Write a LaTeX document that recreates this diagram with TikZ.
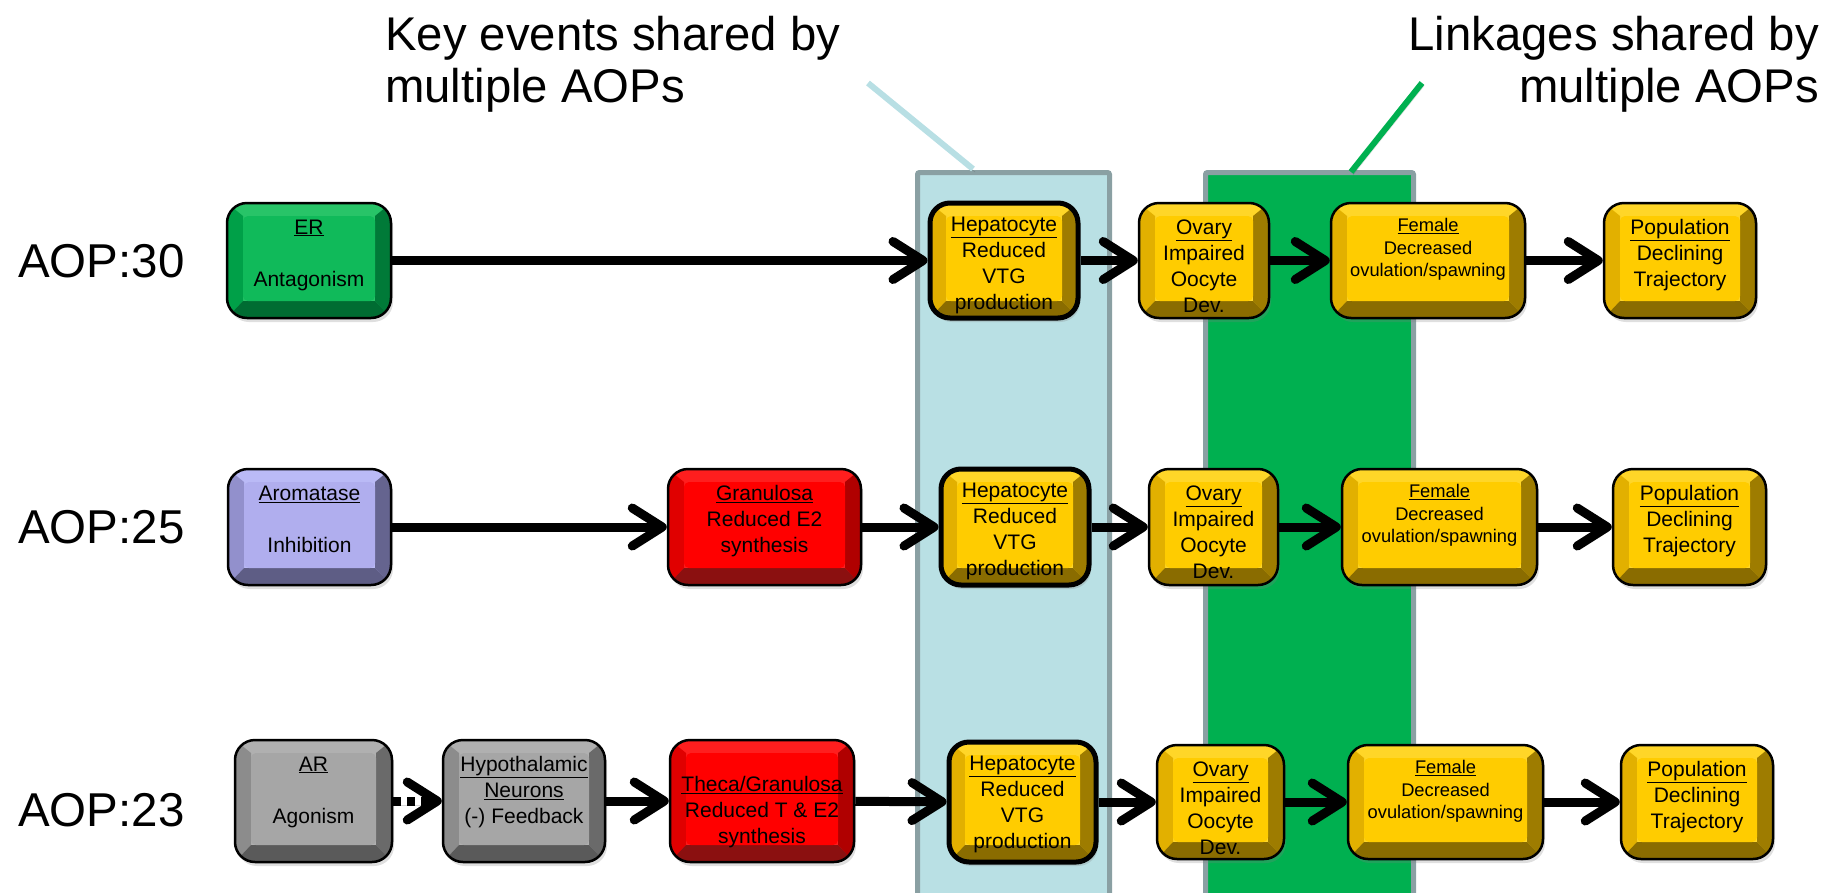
\documentclass[tikz,border=0pt]{standalone}
\usepackage{fontspec}
\setmainfont{Liberation Sans}
\usetikzlibrary{arrows.meta,calc,positioning,shadows}

% strip colours
\definecolor{stripblue}{RGB}{185,224,228}
\definecolor{stripgreen}{RGB}{0,176,80}
\definecolor{stripedge}{RGB}{138,160,163}
\definecolor{pointblue}{RGB}{184,223,228}
% bevel colours: face, top, left, right, bottom
\definecolor{yface}{RGB}{255,204,0}
\definecolor{ytop}{RGB}{255,214,40}
\definecolor{yleft}{RGB}{226,176,0}
\definecolor{yright}{RGB}{158,124,0}
\definecolor{ybot}{RGB}{138,108,0}
\definecolor{gface}{RGB}{16,186,90}
\definecolor{gtop}{RGB}{40,196,104}
\definecolor{gleft}{RGB}{0,160,72}
\definecolor{gright}{RGB}{0,122,56}
\definecolor{gbot}{RGB}{0,108,50}
\definecolor{lface}{RGB}{176,174,238}
\definecolor{ltop}{RGB}{186,186,246}
\definecolor{lleft}{RGB}{146,144,204}
\definecolor{lright}{RGB}{101,100,143}
\definecolor{lbot}{RGB}{94,93,133}
\definecolor{rface}{RGB}{255,0,0}
\definecolor{rtop}{RGB}{255,30,30}
\definecolor{rleft}{RGB}{224,0,0}
\definecolor{rright}{RGB}{176,0,0}
\definecolor{rbot}{RGB}{139,16,16}
\definecolor{kface}{RGB}{166,166,166}
\definecolor{ktop}{RGB}{176,176,176}
\definecolor{kleft}{RGB}{140,140,140}
\definecolor{kright}{RGB}{106,106,106}
\definecolor{kbot}{RGB}{90,90,90}

\begin{document}
\begin{tikzpicture}[x=1pt,y=-1pt,
  box/.style={rectangle, rounded corners=20pt, draw=black, line width=2.5pt,
    inner sep=0pt, minimum height=116pt,
    drop shadow={shadow xshift=2pt, shadow yshift=-4pt, opacity=.25}},
  bevel/.style n args={5}{path picture={
    \fill[#2,sharp corners] (path picture bounding box.south west) rectangle (path picture bounding box.north east);
    \fill[#3,sharp corners] (path picture bounding box.north west) -- ++(16pt,-13pt)
      -- ($(path picture bounding box.south west)+(16pt,17pt)$) -- (path picture bounding box.south west) -- cycle;
    \fill[#4,sharp corners] (path picture bounding box.north east) -- ++(-16pt,-13pt)
      -- ($(path picture bounding box.south east)+(-16pt,17pt)$) -- (path picture bounding box.south east) -- cycle;
    \fill[#5,sharp corners] (path picture bounding box.south west) -- ++(16pt,17pt)
      -- ($(path picture bounding box.south east)+(-16pt,17pt)$) -- (path picture bounding box.south east) -- cycle;
    \fill[#1,rounded corners=5pt] ($(path picture bounding box.north west)+(16pt,-13pt)$)
      rectangle ($(path picture bounding box.south east)+(-16pt,17pt)$);
  }},
  yel/.style={box, bevel={yface}{ytop}{yleft}{yright}{ybot}},
  keybox/.style={yel, line width=5pt},
  grn/.style={box, bevel={gface}{gtop}{gleft}{gright}{gbot}},
  lav/.style={box, bevel={lface}{ltop}{lleft}{lright}{lbot}},
  redb/.style={box, bevel={rface}{rtop}{rleft}{rright}{rbot}},
  gry/.style={box, bevel={kface}{ktop}{kleft}{kright}{kbot}},
  txt/.style={font=\fontsize{21}{26}\selectfont, align=center, inner sep=0pt},
  txtsm/.style={font=\fontsize{18.3}{22.5}\selectfont, align=center, inner sep=0pt},
  aop/.style={font=\fontsize{47.5}{52}\selectfont, anchor=west, inner sep=0pt},
  head/.style={font=\fontsize{47.3}{52}\selectfont, inner sep=0pt},
  flow/.style={line width=9pt, -{Straight Barb[length=30pt,width=38pt,round]},
    preaction={draw=black, draw opacity=.15, transform canvas={shift={(2pt,-4pt)}}}},
  strip/.style={draw=stripedge, line width=5pt, rounded corners=2pt},
  pointer/.style={line width=6pt, draw=#1,
    preaction={draw=black, draw opacity=.15, transform canvas={shift={(2pt,-3pt)}}}}
]
\useasboundingbox (0,0) rectangle (1842,892);
\clip (0,0) rectangle (1842,892);

% shaded columns
\path[strip, fill=stripblue] (917.5,172.5) rectangle (1109.5,910);
\path[strip, fill=stripgreen] (1205.5,172.5) rectangle (1413.5,910);

% headings and their pointers
\node[head, anchor=north west, align=left] (keyhead) at (385,13.5)
  {\strut Key events shared by\\\strut multiple AOPs};
\node[head, anchor=north east, align=right] (linkhead) at (1819,13.5)
  {\strut Linkages shared by\\\strut multiple AOPs};
\coordinate (keytip) at (868,83);
\coordinate (keyfoot) at (973,169);
\coordinate (linktip) at (1422,83);
\coordinate (linkfoot) at (1351,172);
\draw[pointer=pointblue] (keytip) -- (keyfoot);
\draw[pointer=stripgreen] (linktip) -- (linkfoot);

% row labels
\node[aop] (aop30) at (18,261) {AOP:30};
\node[aop] (aop25) at (18,527) {AOP:25};
\node[aop] (aop23) at (18,810) {AOP:23};

% AOP:30
\node[grn, minimum width=164pt, minimum height=115pt] (er) at (309,260.5) {};
\node[keybox, minimum width=148pt, minimum height=115pt] (hepa) at (1004,260.5) {};
\node[yel, minimum width=130pt, minimum height=115pt] (ovaa) at (1204,260.5) {};
\node[yel, minimum width=194pt, minimum height=115pt] (fema) at (1428,260.5) {};
\node[yel, minimum width=152pt, minimum height=115pt] (popa) at (1680,260.5) {};

% AOP:25
\node[lav, minimum width=163pt] (aro) at (309.5,527) {};
\node[redb, minimum width=193pt] (gra) at (764.5,527) {};
\node[keybox, minimum width=148pt] (hepb) at (1015,527) {};
\node[yel, minimum width=129pt] (ovab) at (1213.5,527) {};
\node[yel, minimum width=195pt] (femb) at (1439.5,527) {};
\node[yel, minimum width=153pt] (popb) at (1689.5,527) {};

% AOP:23
\node[gry, minimum width=157pt, minimum height=122pt] (ar) at (313.5,801) {};
\node[gry, minimum width=162pt, minimum height=122pt] (hyp) at (524,801) {};
\node[redb, minimum width=184pt, minimum height=122pt] (the) at (762,801) {};
\node[keybox, minimum width=147pt, minimum height=120pt] (hepc) at (1022.5,802) {};
\node[yel, minimum width=127pt, minimum height=114pt] (ovac) at (1220.5,802) {};
\node[yel, minimum width=195pt, minimum height=114pt] (femc) at (1445.5,802) {};
\node[yel, minimum width=152pt, minimum height=114pt] (popc) at (1697,802) {};

% box texts
\node[txt, below=14pt of er.north] (ert) {\strut\underline{ER}\\\strut\\\strut Antagonism};
\node[txt, below=13pt of hepa.north] (hepat) {\strut\underline{Hepatocyte}\\\strut Reduced\\\strut VTG\\\strut production};
\node[txt, below=14pt of ovaa.north] (ovaat) {\strut\underline{Ovary}\\\strut Impaired\\\strut Oocyte\\\strut Dev.};
\node[txtsm, below=14pt of fema.north] (femat) {\strut\underline{Female}\\\strut Decreased\\\strut ovulation/spawning};
\node[txt, below=14pt of popa.north] (popat) {\strut\underline{Population}\\\strut Declining\\\strut Trajectory};

\node[txt, below=14pt of aro.north] (arot) {\strut\underline{Aromatase}\\\strut\\\strut Inhibition};
\node[txt, below=14pt of gra.north] (grat) {\strut\underline{Granulosa}\\\strut Reduced E2\\\strut synthesis};
\node[txt, below=13pt of hepb.north] (hepbt) {\strut\underline{Hepatocyte}\\\strut Reduced\\\strut VTG\\\strut production};
\node[txt, below=14pt of ovab.north] (ovabt) {\strut\underline{Ovary}\\\strut Impaired\\\strut Oocyte\\\strut Dev.};
\node[txtsm, below=14pt of femb.north] (fembt) {\strut\underline{Female}\\\strut Decreased\\\strut ovulation/spawning};
\node[txt, below=14pt of popb.north] (popbt) {\strut\underline{Population}\\\strut Declining\\\strut Trajectory};

\node[txt, below=14pt of ar.north] (art) {\strut\underline{AR}\\\strut\\\strut Agonism};
\node[txt, below=14pt of hyp.north] (hypt) {\strut\underline{Hypothalamic}\\\strut\underline{Neurons}\\\strut (-) Feedback};
\node[txt, below=34pt of the.north] (thet) {\strut\underline{Theca/Granulosa}\\\strut Reduced T \& E2\\\strut synthesis};
\node[txt, below=13pt of hepc.north] (hepct) {\strut\underline{Hepatocyte}\\\strut Reduced\\\strut VTG\\\strut production};
\node[txt, below=14pt of ovac.north] (ovact) {\strut\underline{Ovary}\\\strut Impaired\\\strut Oocyte\\\strut Dev.};
\node[txtsm, below=14pt of femc.north] (femct) {\strut\underline{Female}\\\strut Decreased\\\strut ovulation/spawning};
\node[txt, below=14pt of popc.north] (popct) {\strut\underline{Population}\\\strut Declining\\\strut Trajectory};

% connectors
\draw[flow] (er) -- (hepa);
\draw[flow] (hepa) -- (ovaa);
\draw[flow] (ovaa) -- (fema);
\draw[flow] (fema) -- (popa);

\draw[flow] (aro) -- (gra);
\draw[flow] (gra) -- (hepb);
\draw[flow] (hepb) -- (ovab);
\draw[flow] (ovab) -- (femb);
\draw[flow] (femb) -- (popb);

\draw[flow, dash pattern=on 8pt off 6pt] (ar) -- (hyp);
\draw[flow] (hyp) -- (the);
\draw[flow] (the) -- (hepc);
\draw[flow] (hepc) -- (ovac);
\draw[flow] (ovac) -- (femc);
\draw[flow] (femc) -- (popc);
\end{tikzpicture}
\end{document}
